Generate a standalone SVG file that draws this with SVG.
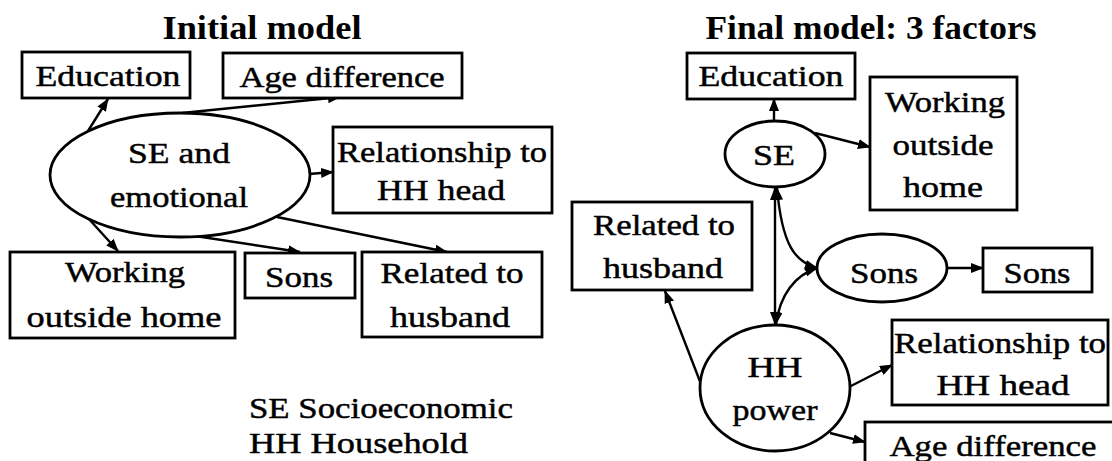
<svg xmlns="http://www.w3.org/2000/svg" width="1112" height="461" viewBox="0 0 1112 461">
  <defs>
    <style>
      .box { fill: #fff; stroke: #000; stroke-width: 2.8; }
      .ell { fill: #fff; stroke: #000; stroke-width: 2.8; }
      .lbl { font-family: "Liberation Serif", "Times New Roman", serif; font-size: 30px; fill: #000; stroke: #000; stroke-width: 0.45; text-anchor: middle; }
      .ttl { font-family: "Liberation Serif", "Times New Roman", serif; font-size: 34px; font-weight: bold; fill: #000; text-anchor: middle; }
      .leg { font-family: "Liberation Serif", "Times New Roman", serif; font-size: 30px; fill: #000; stroke: #000; stroke-width: 0.45; }
      .edge { fill: none; stroke: #000; stroke-width: 2.4; }
    </style>
    <marker id="arr" markerUnits="userSpaceOnUse" markerWidth="13" markerHeight="10" refX="12" refY="5" orient="auto-start-reverse" viewBox="0 0 13 10">
      <path d="M0,0 L13,5 L0,10 z" fill="#000"/>
    </marker>
  </defs>

  <!-- Titles -->
  <text class="ttl" x="262" y="39" textLength="199" lengthAdjust="spacingAndGlyphs">Initial model</text>
  <text class="ttl" x="871" y="39" textLength="331" lengthAdjust="spacingAndGlyphs">Final model: 3 factors</text>

  <!-- Initial model: connectors -->
  <g id="connectors-initial">
    <line class="edge" x1="88" y1="131" x2="108" y2="99" marker-end="url(#arr)"/>
    <line class="edge" x1="182" y1="113" x2="340" y2="97" marker-end="url(#arr)"/>
    <line class="edge" x1="309" y1="174" x2="333" y2="172" marker-end="url(#arr)"/>
    <line class="edge" x1="88" y1="218" x2="118" y2="251" marker-end="url(#arr)"/>
    <line class="edge" x1="90" y1="220" x2="300" y2="252" marker-end="url(#arr)"/>
    <line class="edge" x1="277" y1="217" x2="447" y2="252" marker-end="url(#arr)"/>
  </g>

  <!-- Initial model: nodes -->
  <g id="i-education">
    <rect class="box" x="22" y="52" width="168" height="46"/>
    <text class="lbl" x="108" y="86" textLength="145" lengthAdjust="spacingAndGlyphs">Education</text>
  </g>
  <g id="i-age">
    <rect class="box" x="223" y="53" width="239" height="45"/>
    <text class="lbl" x="342" y="87" textLength="205" lengthAdjust="spacingAndGlyphs">Age difference</text>
  </g>
  <g id="i-factor">
    <ellipse class="ell" cx="180" cy="175" rx="130" ry="62"/>
    <text class="lbl" x="179" y="163" textLength="102" lengthAdjust="spacingAndGlyphs">SE and</text>
    <text class="lbl" x="179" y="207" textLength="138" lengthAdjust="spacingAndGlyphs">emotional</text>
  </g>
  <g id="i-relationship">
    <rect class="box" x="333" y="127" width="219" height="86"/>
    <text class="lbl" x="442" y="162" textLength="210" lengthAdjust="spacingAndGlyphs">Relationship to</text>
    <text class="lbl" x="441" y="200" textLength="128" lengthAdjust="spacingAndGlyphs">HH head</text>
  </g>
  <g id="i-working">
    <rect class="box" x="10" y="252" width="225" height="86"/>
    <text class="lbl" x="125" y="282" textLength="120" lengthAdjust="spacingAndGlyphs">Working</text>
    <text class="lbl" x="124" y="327" textLength="195" lengthAdjust="spacingAndGlyphs">outside home</text>
  </g>
  <g id="i-sons">
    <rect class="box" x="245" y="253" width="110" height="45"/>
    <text class="lbl" x="299" y="287" textLength="68" lengthAdjust="spacingAndGlyphs">Sons</text>
  </g>
  <g id="i-related">
    <rect class="box" x="362" y="252" width="180" height="85"/>
    <text class="lbl" x="452" y="283" textLength="143" lengthAdjust="spacingAndGlyphs">Related to</text>
    <text class="lbl" x="450" y="327" textLength="120" lengthAdjust="spacingAndGlyphs">husband</text>
  </g>

  <!-- Legend -->
  <g id="legend">
    <text class="leg" x="249" y="418" textLength="264" lengthAdjust="spacingAndGlyphs">SE Socioeconomic</text>
    <text class="leg" x="249" y="453" textLength="219" lengthAdjust="spacingAndGlyphs">HH Household</text>
  </g>

  <!-- Final model: connectors -->
  <g id="connectors-final">
    <line class="edge" x1="774" y1="121" x2="774" y2="99" marker-end="url(#arr)"/>
    <line class="edge" x1="815" y1="133" x2="870" y2="147" marker-end="url(#arr)"/>
    <line class="edge" x1="775" y1="188" x2="775" y2="324" marker-start="url(#arr)" marker-end="url(#arr)"/>
    <path class="edge" d="M777,188 C782,245 795,262 817,268" marker-start="url(#arr)" marker-end="url(#arr)"/>
    <path class="edge" d="M817,268 C795,275 780,295 776,324" marker-start="url(#arr)" marker-end="url(#arr)"/>
    <line class="edge" x1="948" y1="268" x2="983" y2="268" marker-end="url(#arr)"/>
    <line class="edge" x1="701" y1="384" x2="665" y2="291" marker-end="url(#arr)"/>
    <line class="edge" x1="849" y1="387" x2="892" y2="365" marker-end="url(#arr)"/>
    <line class="edge" x1="830" y1="433" x2="865" y2="442" marker-end="url(#arr)"/>
  </g>

  <!-- Final model: nodes -->
  <g id="f-education">
    <rect class="box" x="687" y="53" width="168" height="46"/>
    <text class="lbl" x="771" y="86" textLength="145" lengthAdjust="spacingAndGlyphs">Education</text>
  </g>
  <g id="f-se">
    <ellipse class="ell" cx="775" cy="154" rx="50" ry="33"/>
    <text class="lbl" x="774" y="165" textLength="42" lengthAdjust="spacingAndGlyphs">SE</text>
  </g>
  <g id="f-working">
    <rect class="box" x="870" y="77" width="147" height="133"/>
    <text class="lbl" x="945" y="112" textLength="120" lengthAdjust="spacingAndGlyphs">Working</text>
    <text class="lbl" x="943" y="155" textLength="101" lengthAdjust="spacingAndGlyphs">outside</text>
    <text class="lbl" x="943" y="197" textLength="80" lengthAdjust="spacingAndGlyphs">home</text>
  </g>
  <g id="f-related">
    <rect class="box" x="572" y="202" width="180" height="88"/>
    <text class="lbl" x="664" y="235" textLength="142" lengthAdjust="spacingAndGlyphs">Related to</text>
    <text class="lbl" x="663" y="278" textLength="120" lengthAdjust="spacingAndGlyphs">husband</text>
  </g>
  <g id="f-sons-factor">
    <ellipse class="ell" cx="882" cy="268" rx="65" ry="34"/>
    <text class="lbl" x="884" y="283" textLength="68" lengthAdjust="spacingAndGlyphs">Sons</text>
  </g>
  <g id="f-sons">
    <rect class="box" x="983" y="248" width="109" height="44"/>
    <text class="lbl" x="1037" y="283" textLength="67" lengthAdjust="spacingAndGlyphs">Sons</text>
  </g>
  <g id="f-hh-power">
    <ellipse class="ell" cx="775" cy="388" rx="75" ry="63"/>
    <text class="lbl" x="775" y="377" textLength="55" lengthAdjust="spacingAndGlyphs">HH</text>
    <text class="lbl" x="775" y="420" textLength="85" lengthAdjust="spacingAndGlyphs">power</text>
  </g>
  <g id="f-relationship">
    <rect class="box" x="892" y="320" width="216" height="85"/>
    <text class="lbl" x="1000" y="353" textLength="212" lengthAdjust="spacingAndGlyphs">Relationship to</text>
    <text class="lbl" x="1003" y="395" textLength="133" lengthAdjust="spacingAndGlyphs">HH head</text>
  </g>
  <g id="f-age">
    <rect class="box" x="865" y="422" width="260" height="60"/>
    <text class="lbl" x="993" y="456" textLength="207" lengthAdjust="spacingAndGlyphs">Age difference</text>
  </g>
</svg>
